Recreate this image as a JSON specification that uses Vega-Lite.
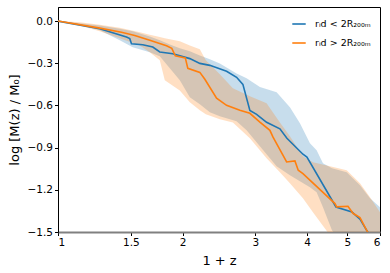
{
  "$schema": "https://vega.github.io/schema/vega-lite/v6.json",
  "width": 322,
  "height": 225,
  "autosize": {"type": "none"},
  "padding": {"left": 58, "top": 7, "right": 10, "bottom": 41},
  "background": "white",
  "config": {
    "font": "DejaVu Sans",
    "view": {"stroke": "black", "strokeWidth": 1},
    "axis": {
      "grid": false,
      "labelFont": "DejaVu Sans",
      "labelFontSize": 10.5,
      "labelColor": "black",
      "tickColor": "black",
      "tickSize": 3.5,
      "domainColor": "black",
      "titleFont": "DejaVu Sans",
      "titleFontSize": 13,
      "titleFontWeight": "normal",
      "titleColor": "black"
    },
    "legend": {
      "labelFont": "DejaVu Sans",
      "labelFontSize": 9.5,
      "labelColor": "black"
    }
  },
  "datasets": {
    "lines": [
      {"x": 1, "y": 0, "series": "blue"},
      {"x": 1.2614, "y": -0.054, "series": "blue"},
      {"x": 1.4637, "y": -0.114, "series": "blue"},
      {"x": 1.4909, "y": -0.125, "series": "blue"},
      {"x": 1.505, "y": -0.161, "series": "blue"},
      {"x": 1.6028, "y": -0.168, "series": "blue"},
      {"x": 1.6947, "y": -0.185, "series": "blue"},
      {"x": 1.762, "y": -0.22, "series": "blue"},
      {"x": 1.8943, "y": -0.232, "series": "blue"},
      {"x": 2.0824, "y": -0.267, "series": "blue"},
      {"x": 2.2017, "y": -0.301, "series": "blue"},
      {"x": 2.3278, "y": -0.315, "series": "blue"},
      {"x": 2.5548, "y": -0.357, "series": "blue"},
      {"x": 2.7012, "y": -0.4, "series": "blue"},
      {"x": 2.7977, "y": -0.45, "series": "blue"},
      {"x": 2.9087, "y": -0.635, "series": "blue"},
      {"x": 3.0195, "y": -0.663, "series": "blue"},
      {"x": 3.1923, "y": -0.72, "series": "blue"},
      {"x": 3.4376, "y": -0.766, "series": "blue"},
      {"x": 3.5743, "y": -0.834, "series": "blue"},
      {"x": 3.9078, "y": -0.947, "series": "blue"},
      {"x": 3.9955, "y": -0.967, "series": "blue"},
      {"x": 4.6966, "y": -1.322, "series": "blue"},
      {"x": 5.1338, "y": -1.358, "series": "blue"},
      {"x": 5.3674, "y": -1.409, "series": "blue"},
      {"x": 5.572, "y": -1.488, "series": "blue"},
      {"x": 5.6748, "y": -1.527, "series": "blue"},
      {"x": 1, "y": 0, "series": "orange"},
      {"x": 1.2614, "y": -0.05, "series": "orange"},
      {"x": 1.4235, "y": -0.08, "series": "orange"},
      {"x": 1.533, "y": -0.102, "series": "orange"},
      {"x": 1.6665, "y": -0.137, "series": "orange"},
      {"x": 1.8291, "y": -0.176, "series": "orange"},
      {"x": 1.8837, "y": -0.194, "series": "orange"},
      {"x": 1.921, "y": -0.247, "series": "orange"},
      {"x": 2.0309, "y": -0.262, "series": "orange"},
      {"x": 2.0593, "y": -0.336, "series": "orange"},
      {"x": 2.2017, "y": -0.365, "series": "orange"},
      {"x": 2.2641, "y": -0.414, "series": "orange"},
      {"x": 2.4165, "y": -0.549, "series": "orange"},
      {"x": 2.5548, "y": -0.599, "series": "orange"},
      {"x": 2.7511, "y": -0.635, "series": "orange"},
      {"x": 2.9087, "y": -0.656, "series": "orange"},
      {"x": 3.0753, "y": -0.718, "series": "orange"},
      {"x": 3.2514, "y": -0.777, "series": "orange"},
      {"x": 3.3062, "y": -0.824, "series": "orange"},
      {"x": 3.5687, "y": -1.002, "series": "orange"},
      {"x": 3.7374, "y": -0.995, "series": "orange"},
      {"x": 3.8068, "y": -1.061, "series": "orange"},
      {"x": 3.9078, "y": -1.085, "series": "orange"},
      {"x": 4.6704, "y": -1.298, "series": "orange"},
      {"x": 4.7145, "y": -1.321, "series": "orange"},
      {"x": 5.0205, "y": -1.317, "series": "orange"},
      {"x": 5.162, "y": -1.367, "series": "orange"},
      {"x": 5.3674, "y": -1.397, "series": "orange"},
      {"x": 5.572, "y": -1.488, "series": "orange"},
      {"x": 5.6748, "y": -1.53, "series": "orange"}
    ],
    "bands": [
      {"x": 1, "hi": 0, "lo": 0, "series": "blue"},
      {"x": 1.1285, "hi": -0.016, "lo": -0.027, "series": "blue"},
      {"x": 1.2614, "hi": -0.031, "lo": -0.066, "series": "blue"},
      {"x": 1.4101, "hi": -0.055, "lo": -0.137, "series": "blue"},
      {"x": 1.516, "hi": -0.073, "lo": -0.187, "series": "blue"},
      {"x": 1.6665, "hi": -0.109, "lo": -0.222, "series": "blue"},
      {"x": 1.762, "hi": -0.137, "lo": -0.251, "series": "blue"},
      {"x": 1.863, "hi": -0.166, "lo": -0.336, "series": "blue"},
      {"x": 1.9697, "hi": -0.194, "lo": -0.421, "series": "blue"},
      {"x": 2.0824, "hi": -0.215, "lo": -0.542, "series": "blue"},
      {"x": 2.2017, "hi": -0.244, "lo": -0.592, "series": "blue"},
      {"x": 2.3278, "hi": -0.272, "lo": -0.649, "series": "blue"},
      {"x": 2.4611, "hi": -0.301, "lo": -0.677, "series": "blue"},
      {"x": 2.701, "hi": -0.372, "lo": -0.713, "series": "blue"},
      {"x": 2.8558, "hi": -0.407, "lo": -0.777, "series": "blue"},
      {"x": 3.0753, "hi": -0.469, "lo": -0.891, "series": "blue"},
      {"x": 3.3752, "hi": -0.507, "lo": -1.033, "series": "blue"},
      {"x": 3.6345, "hi": -0.613, "lo": -1.097, "series": "blue"},
      {"x": 3.8427, "hi": -0.727, "lo": -1.139, "series": "blue"},
      {"x": 4.0628, "hi": -0.869, "lo": -1.182, "series": "blue"},
      {"x": 4.2172, "hi": -0.919, "lo": -1.217, "series": "blue"},
      {"x": 4.3683, "hi": -1.011, "lo": -1.324, "series": "blue"},
      {"x": 4.5926, "hi": -1.047, "lo": -1.488, "series": "blue"},
      {"x": 4.9844, "hi": -1.075, "lo": -1.63, "series": "blue"},
      {"x": 5.3674, "hi": -1.168, "lo": -1.772, "series": "blue"},
      {"x": 5.6748, "hi": -1.26, "lo": -1.843, "series": "blue"},
      {"x": 6, "hi": -1.324, "lo": -1.914, "series": "blue"},
      {"x": 1, "hi": 0, "lo": 0, "series": "orange"},
      {"x": 1.1285, "hi": -0.009, "lo": -0.031, "series": "orange"},
      {"x": 1.2614, "hi": -0.027, "lo": -0.073, "series": "orange"},
      {"x": 1.4101, "hi": -0.048, "lo": -0.123, "series": "orange"},
      {"x": 1.5763, "hi": -0.08, "lo": -0.173, "series": "orange"},
      {"x": 1.6665, "hi": -0.098, "lo": -0.222, "series": "orange"},
      {"x": 1.762, "hi": -0.114, "lo": -0.279, "series": "orange"},
      {"x": 1.8117, "hi": -0.123, "lo": -0.421, "series": "orange"},
      {"x": 1.9697, "hi": -0.144, "lo": -0.493, "series": "orange"},
      {"x": 2.0824, "hi": -0.173, "lo": -0.578, "series": "orange"},
      {"x": 2.2017, "hi": -0.201, "lo": -0.635, "series": "orange"},
      {"x": 2.2766, "hi": -0.279, "lo": -0.663, "series": "orange"},
      {"x": 2.4611, "hi": -0.379, "lo": -0.699, "series": "orange"},
      {"x": 2.646, "hi": -0.478, "lo": -0.721, "series": "orange"},
      {"x": 2.9087, "hi": -0.535, "lo": -0.834, "series": "orange"},
      {"x": 3.1923, "hi": -0.585, "lo": -0.976, "series": "orange"},
      {"x": 3.4376, "hi": -0.721, "lo": -1.075, "series": "orange"},
      {"x": 3.6345, "hi": -0.819, "lo": -1.153, "series": "orange"},
      {"x": 3.9078, "hi": -0.962, "lo": -1.26, "series": "orange"},
      {"x": 4.1311, "hi": -1.004, "lo": -1.36, "series": "orange"},
      {"x": 4.5415, "hi": -1.033, "lo": -1.523, "series": "orange"},
      {"x": 4.9844, "hi": -1.061, "lo": -1.667, "series": "orange"},
      {"x": 5.3674, "hi": -1.153, "lo": -1.807, "series": "orange"},
      {"x": 5.6748, "hi": -1.253, "lo": -1.878, "series": "orange"},
      {"x": 6, "hi": -1.36, "lo": -1.949, "series": "orange"}
    ]
  },
  "encoding": {
    "x": {
      "field": "x",
      "type": "quantitative",
      "scale": {"type": "log", "domain": [1, 6], "nice": false},
      "axis": {
        "title": "1 + z",
        "values": [1, 1.5, 2, 3, 4, 5, 6],
        "format": "~g",
        "domainColor": "#808080",
        "domainWidth": 2,
        "labelPadding": 2,
        "titlePadding": 6
      }
    }
  },
  "layer": [
    {
      "data": {"name": "bands"},
      "transform": [{"filter": "datum.series === 'blue'"}],
      "mark": {"type": "area", "color": "#1f77b4", "opacity": 0.25, "clip": true},
      "encoding": {
        "y": {
          "field": "hi",
          "type": "quantitative",
          "scale": {"domain": [-1.5, 0.1], "nice": false, "zero": false},
          "axis": {
            "title": "log [M(z) / M₀]",
            "values": [0, -0.3, -0.6, -0.9, -1.2, -1.5],
            "format": ".1f",
            "labelPadding": 2,
            "titlePadding": 6
          }
        },
        "y2": {"field": "lo"}
      }
    },
    {
      "data": {"name": "bands"},
      "transform": [{"filter": "datum.series === 'orange'"}],
      "mark": {"type": "area", "color": "#ff7f0e", "opacity": 0.25, "clip": true},
      "encoding": {
        "y": {"field": "hi", "type": "quantitative"},
        "y2": {"field": "lo"}
      }
    },
    {
      "data": {"name": "lines"},
      "mark": {"type": "line", "strokeWidth": 1.6, "clip": true},
      "encoding": {
        "y": {"field": "y", "type": "quantitative"},
        "stroke": {
          "field": "series",
          "type": "nominal",
          "scale": {"domain": ["blue", "orange"], "range": ["#1f77b4", "#ff7f0e"]},
          "legend": {
            "title": null,
            "orient": "top-right",
            "offset": 9,
            "padding": 0,
            "symbolType": "stroke",
            "symbolStrokeWidth": 1.6,
            "symbolSize": 180,
            "labelOffset": 8,
            "rowPadding": 6,
            "labelExpr": "datum.value === 'blue' ? 'rᵢd < 2R₂₀₀ₘ' : 'rᵢd > 2R₂₀₀ₘ'"
          }
        }
      }
    }
  ]
}
